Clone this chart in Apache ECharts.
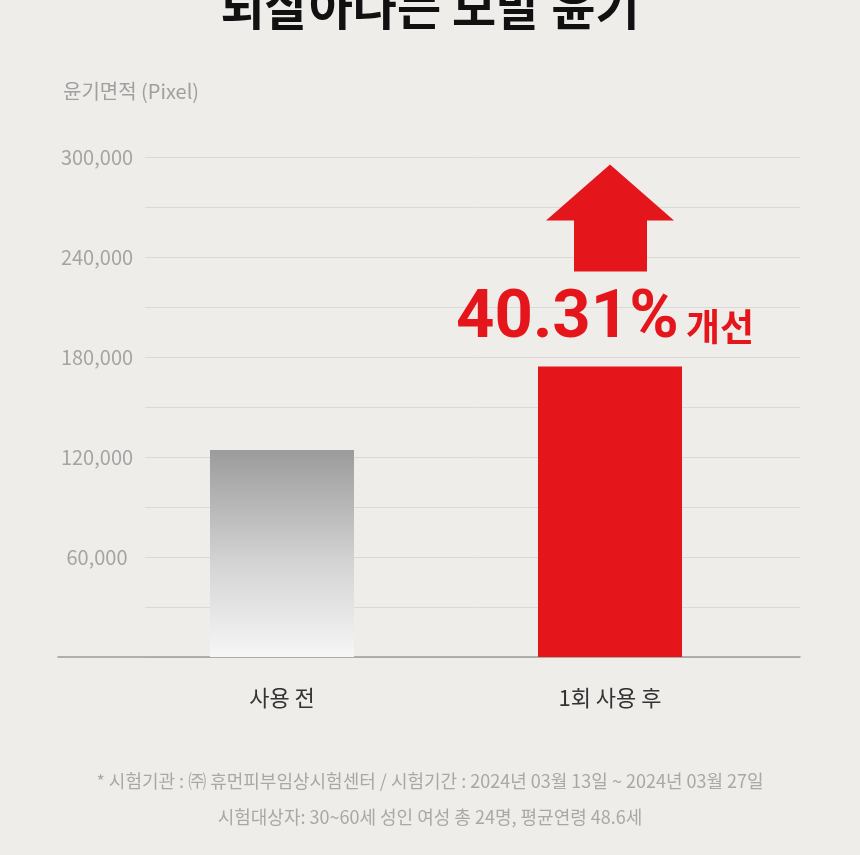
<!DOCTYPE html>
<html>
<head>
<meta charset="utf-8">
<script src="https://cdn.jsdelivr.net/npm/echarts@6/dist/echarts.min.js"></script>
<style>
  html, body { margin: 0; padding: 0; background: #eeede9; }
  #root { width: 860px; height: 855px; }
</style>
</head>
<body>
<div id="root"></div>
<script>
var categories = ['사용 전', '1회 사용 후']
var glossValues = [124200, 174300]
var yTicks = [0, 60000, 120000, 180000, 240000, 300000]
var improvement = '40.31%'

var FONT = '"Noto Sans CJK KR", "Noto Sans", sans-serif'

var chart = echarts.init(document.getElementById('root'))

var option = {
  backgroundColor: '#eeede9',
  animation: false,
  title: [
    { text: '되살아나는 모발 윤기', left: 'center', top: -22,
      textStyle: { fontFamily: FONT, fontSize: 48, fontWeight: 'bold', color: '#111' } },
    { text: '윤기면적 (Pixel)', left: 58, top: 76,
      textStyle: { fontFamily: FONT, fontSize: 20, fontWeight: 'normal', color: '#a0a0a0' } },
    { text: '* 시험기관 : ㈜ 휴먼피부임상시험센터 / 시험기간 : 2024년 03월 13일 ~ 2024년 03월 27일', left: 'center', top: 767,
      textStyle: { fontFamily: FONT, fontSize: 18, fontWeight: 'normal', color: '#a8a8a8' } },
    { text: '시험대상자: 30~60세 성인 여성 총 24명, 평균연령 48.6세', left: 'center', top: 803,
      textStyle: { fontFamily: FONT, fontSize: 18, fontWeight: 'normal', color: '#a8a8a8' } }
  ],
  grid: [
    { left: 118, right: 86, top: 157, bottom: 198 },
    { left: 145, right: 60, top: 157, bottom: 198 },
    { left: 58, right: 60, top: 157, bottom: 198 }
  ],
  xAxis: [
    { type: 'category', gridIndex: 0, data: categories,
      axisLine: { show: false }, axisTick: { show: false },
      axisLabel: { fontFamily: FONT, fontSize: 22, color: '#333', margin: 30 } },
    { type: 'value', gridIndex: 1, show: false },
    { type: 'value', gridIndex: 2, min: 0, max: 1,
      axisLine: { show: true, lineStyle: { color: '#9a9a9a', width: 1.5 } },
      axisTick: { show: false }, axisLabel: { show: false }, splitLine: { show: false } }
  ],
  yAxis: [
    { type: 'value', gridIndex: 0, min: 0, max: 300000, show: false },
    { type: 'value', gridIndex: 1, min: 0, max: 300000, interval: 30000,
      axisLine: { show: false }, axisTick: { show: false },
      splitLine: { lineStyle: { color: '#dad9d5', width: 1 } },
      axisLabel: {
        fontFamily: FONT, fontSize: 20, color: '#a4a4a4', align: 'center', margin: 48,
        formatter: function (v) {
          return yTicks.indexOf(v) > 0 ? v.toLocaleString('en-US') : ''
        }
      } },
    { type: 'value', gridIndex: 2, show: false }
  ],
  series: [{
    type: 'bar',
    xAxisIndex: 0,
    yAxisIndex: 0,
    barWidth: 144,
    data: [
      { value: glossValues[0],
        itemStyle: { color: new echarts.graphic.LinearGradient(0, 0, 0, 1, [
          { offset: 0, color: '#9b9b9b' },
          { offset: 0.55, color: '#d4d4d4' },
          { offset: 1, color: '#f6f6f6' }
        ]) } },
      { value: glossValues[1], itemStyle: { color: '#e5161b' } }
    ]
  }]
}

chart.setOption(option)

// arrow + percentage placed relative to the second bar
var pt = chart.convertToPixel({ gridIndex: 0 }, [1, glossValues[1]])
var cx = pt[0], barTop = pt[1]
var headTop = barTop - 202, headBase = barTop - 146, shaftBottom = barTop - 95
chart.setOption({
  graphic: [
    { type: 'polygon', z: 10,
      shape: { points: [
        [cx, headTop], [cx + 64, headBase], [cx + 37, headBase], [cx + 37, shaftBottom],
        [cx - 36, shaftBottom], [cx - 36, headBase], [cx - 64, headBase]
      ] },
      style: { fill: '#e5161b' } },
    { type: 'text', z: 10, x: cx - 154, y: barTop - 13,
      style: { text: improvement, fill: '#e5161b', font: 'bold 67px Roboto, "Noto Sans", sans-serif',
        verticalAlign: 'bottom' } },
    { type: 'text', z: 10, x: cx + 76, y: barTop - 21,
      style: { text: '개선', fill: '#e5161b', font: 'bold 37px "Noto Sans CJK KR", sans-serif',
        verticalAlign: 'bottom' } }
  ]
})
</script>
</body>
</html>
